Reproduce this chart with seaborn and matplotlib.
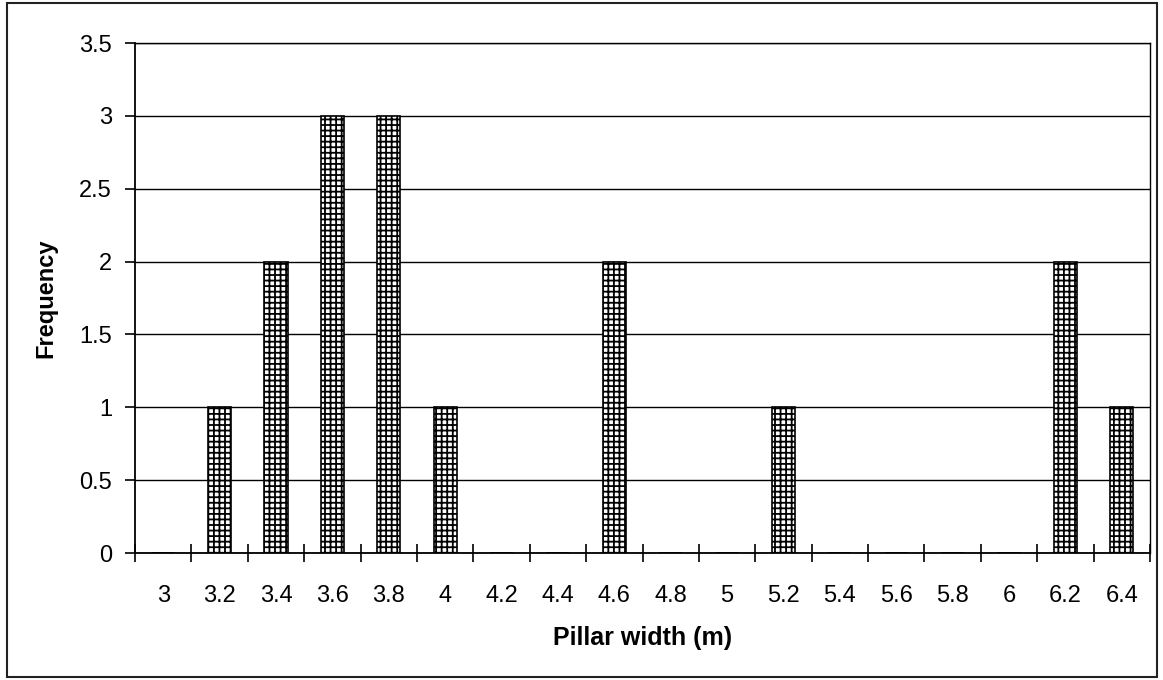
import matplotlib
matplotlib.use("Agg")
import matplotlib.pyplot as plt
from matplotlib.patches import Rectangle
from matplotlib.ticker import FixedLocator, FuncFormatter
import seaborn as sns
import pandas as pd

categories = ["3", "3.2", "3.4", "3.6", "3.8", "4", "4.2", "4.4", "4.6",
              "4.8", "5", "5.2", "5.4", "5.6", "5.8", "6", "6.2", "6.4"]
frequency = [0, 1, 2, 3, 3, 1, 0, 0, 2, 0, 0, 1, 0, 0, 0, 0, 2, 1]
y_ticks = [0, 0.5, 1, 1.5, 2, 2.5, 3, 3.5]

sns.set_theme(style="white")
plt.rcParams["font.family"] = ["Liberation Sans", "DejaVu Sans"]
plt.rcParams["hatch.linewidth"] = 1.3
plt.rcParams["hatch.color"] = "black"

df = pd.DataFrame({"width": categories, "freq": frequency})

fig = plt.figure(figsize=(11.63, 6.80), dpi=100)
ax = fig.add_axes([135 / 1163, 1 - 553 / 680, (1150 - 135) / 1163, (553 - 43) / 680])

sns.barplot(data=df, x="width", y="freq", order=categories, ax=ax,
            width=0.41, color="white", edgecolor="black", linewidth=1.2,
            hatch="+++", errorbar=None, saturation=1)
for p in ax.patches:
    p.set_facecolor("white")
    p.set_edgecolor("black")
    p.set_hatch("+++")

ax.set_xlim(-0.5, len(categories) - 0.5)
ax.set_ylim(0, 3.5)
ax.set_yticks(y_ticks)
ax.yaxis.set_major_formatter(FuncFormatter(lambda v, pos: f"{v:g}"))
ax.grid(axis="y", color="black", linewidth=1.0)
ax.grid(axis="x", visible=False)
ax.set_axisbelow(True)

for s in ax.spines.values():
    s.set_visible(True)
    s.set_color("black")
    s.set_linewidth(1.0)
ax.spines["left"].set_linewidth(1.3)
ax.spines["bottom"].set_linewidth(1.3)

ax.xaxis.set_minor_locator(FixedLocator([i - 0.5 for i in range(len(categories) + 1)]))
ax.tick_params(axis="x", which="major", length=0, pad=23, labelsize=17, colors="black")
ax.tick_params(axis="x", which="minor", direction="inout", length=13, width=1.2,
               color="black", bottom=True)
ax.tick_params(axis="y", which="major", direction="out", length=7, width=1.2,
               pad=9.5, labelsize=17, colors="black", left=True)

ax.set_xlabel("Pillar width (m)", fontsize=18, fontweight="bold", labelpad=14, color="black")
ax.set_ylabel("Frequency", fontsize=17, fontweight="bold", labelpad=16, color="black")

fig.patches.append(Rectangle((7 / 1163, 3 / 680), (1157 - 7) / 1163, (677 - 3) / 680,
                             transform=fig.transFigure, fill=False,
                             edgecolor="#222222", linewidth=1.5))

fig.savefig("out.png", dpi=100)
